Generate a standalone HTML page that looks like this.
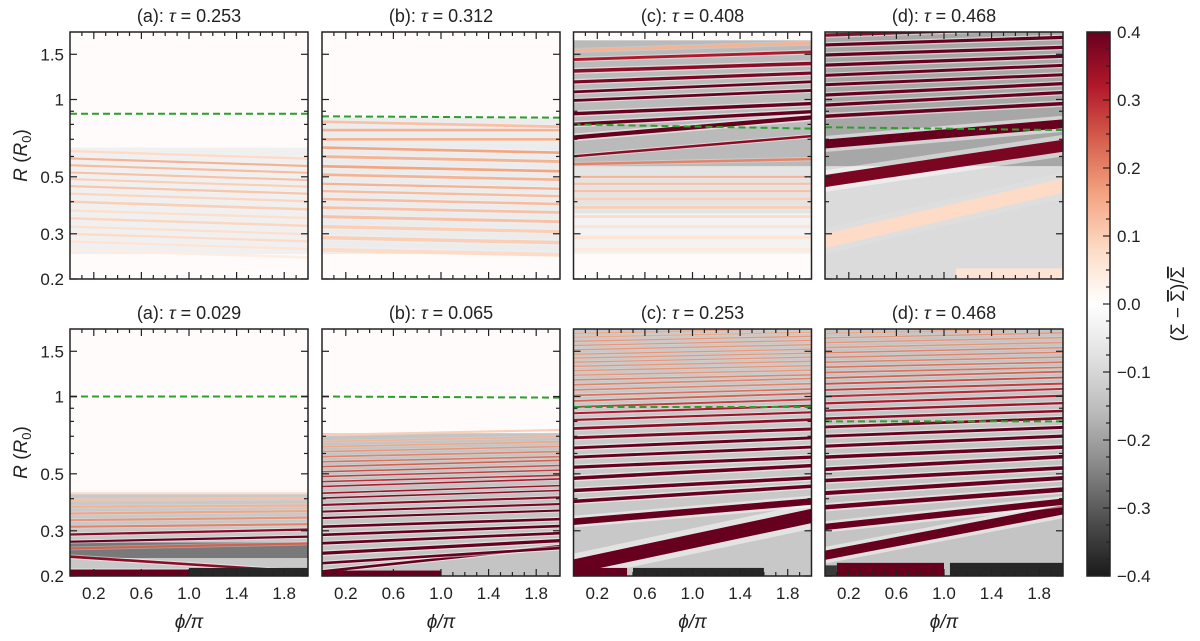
<!DOCTYPE html>
<html><head><meta charset="utf-8"><style>
body{margin:0;background:#fff;}
svg text{font-family:"Liberation Sans","DejaVu Sans",sans-serif;fill:#222;}
</style></head><body>
<svg id="fig" width="1200" height="636" viewBox="0 0 1200 636" xmlns="http://www.w3.org/2000/svg">
<defs id="defs"></defs>
</svg>
<script>
// ---------- data ----------
const panelTitles=["(a): ","(b): ","(c): ","(d): ","(a): ","(b): ","(c): ","(d): "];
const panelTaus=["0.253","0.312","0.408","0.468","0.029","0.065","0.253","0.468"];
const xTickLabels=["0.2","0.6","1.0","1.4","1.8"];
const xTickValues=[0.2,0.6,1.0,1.4,1.8];
const yTickValues=[0.2,0.3,0.5,1,1.5];
const yTickLabels=["0.2","0.3","0.5","1","1.5"];
const yMinorValues=[0.4,0.6,0.7,0.8,0.9];
const cbTickValues=[-0.4,-0.3,-0.2,-0.1,0.0,0.1,0.2,0.3,0.4];
const cbTickLabels=["\u22120.4","\u22120.3","\u22120.2","\u22120.1","0.0","0.1","0.2","0.3","0.4"];

const greenStart=[0.88,0.86,0.80,0.78,1.0,1.0,0.91,0.80];
const greenEnd=[0.88,0.85,0.77,0.76,1.0,0.99,0.91,0.80];

const topA_R=[0.26,0.28,0.30,0.32,0.345,0.37,0.40,0.43,0.46,0.49,0.52,0.555,0.59,0.63];
const topA_amp=[0.1,0.15,0.2,0.18,0.22,0.18,0.25,0.22,0.28,0.25,0.3,0.32,0.35,0.2];
const topA_tilt=[-0.03,-0.03,-0.03,-0.03,-0.03,-0.03,-0.03,-0.03,-0.03,-0.03,-0.03,-0.03,-0.03,-0.03];
const topB_R=[0.26,0.29,0.32,0.35,0.38,0.41,0.44,0.47,0.51,0.55,0.60,0.65,0.70,0.76,0.82];
const topB_amp=[0.2,0.25,0.25,0.3,0.3,0.32,0.32,0.35,0.35,0.4,0.35,0.4,0.35,0.35,0.3];
const topB_tilt=[-0.02,-0.02,-0.02,-0.02,-0.02,-0.02,-0.02,-0.02,-0.02,-0.02,-0.02,-0.02,0.0,0.0,-0.02];
const topC_R=[0.26,0.29,0.32,0.35,0.38,0.41,0.44,0.47,0.50,0.56,0.60,0.71,0.80,0.88,0.99,1.07,1.17,1.29,1.43,1.55];
const topC_amp=[0.12,0.15,0.15,0.2,0.25,0.25,0.3,0.3,0.35,0.5,0.9,1,1,1,1,1,0.95,0.9,0.8,0.35];
const topC_tilt=[0,0,0,0,0,0,0,0,0,0.02,0.08,0.08,0.05,0.04,0.04,0.04,0.035,0.03,0.03,0.03];
const topD_R=[0.28,0.48,0.67,0.86,0.95,1.04,1.14,1.24,1.36,1.49,1.63,1.78];
const topD_amp=[0.2,0.95,1,1,1,1,1,1,1,1,1,0.9];
const topD_tilt=[0.22,0.14,0.08,0.05,0.05,0.045,0.04,0.04,0.035,0.03,0.03,0.03];
const botA_R=[0.205,0.238,0.256,0.272,0.29,0.311,0.33,0.35,0.372,0.396,0.42];
const botA_amp=[1,0.9,0.6,1,0.9,0.5,0.45,0.4,0.35,0.3,0.2];
const botA_tilt=[0,-0.06,0.02,0.02,0.02,0.01,0.01,0.01,0.005,0.005,0];
const botB_R=[0.208,0.224,0.245,0.268,0.289,0.311,0.336,0.356,0.378,0.402,0.420,0.446,0.466,0.488,0.509,0.533,0.557,0.583,0.610,0.637,0.667,0.708];
const botB_amp=[1,1,1,1,1,1,1,0.95,0.9,0.9,0.85,0.8,0.75,0.7,0.65,0.6,0.55,0.5,0.45,0.4,0.35,0.25];
const botB_tilt=[0.1,0.06,0.05,0.04,0.035,0.03,0.03,0.03,0.03,0.03,0.03,0.03,0.025,0.025,0.025,0.025,0.02,0.02,0.02,0.02,0.02,0.02];
const botC_R=[0.217,0.325,0.39,0.43,0.48,0.53,0.58,0.63,0.69,0.75,0.81,0.86,0.91,0.96,1.01,1.06,1.11,1.16,1.21,1.26,1.31,1.36,1.41,1.46,1.52,1.58,1.64,1.70,1.76];
const botC_amp=[1,1,1,1,1,1,1,1,0.95,0.9,0.85,0.8,0.7,0.6,0.55,0.5,0.5,0.5,0.45,0.45,0.45,0.45,0.45,0.45,0.45,0.45,0.45,0.4,0.4];
const botC_tilt=[0.2,0.08,0.06,0.05,0.05,0.04,0.04,0.04,0.035,0.035,0.03,0.03,0.03,0.03,0.025,0.025,0.025,0.02,0.02,0.02,0.02,0.02,0.02,0.02,0.02,0.02,0.02,0.02,0.02];
const botD_R=[0.24,0.31,0.37,0.42,0.47,0.52,0.58,0.64,0.70,0.76,0.82,0.88,0.94,1.0,1.06,1.12,1.18,1.24,1.30,1.36,1.42,1.48,1.55,1.62,1.69,1.76];
const botD_amp=[1,1,1,1,1,1,1,1,1,0.95,0.9,0.85,0.8,0.75,0.7,0.65,0.6,0.55,0.55,0.5,0.5,0.5,0.45,0.45,0.45,0.4];
const botD_tilt=[0.18,0.1,0.07,0.06,0.05,0.05,0.04,0.04,0.035,0.035,0.03,0.03,0.03,0.03,0.025,0.025,0.025,0.02,0.02,0.02,0.02,0.02,0.02,0.02,0.02,0.02];

// zones: [Rlo, Rhi, value]
const zonesTopA=[[0.25,0.65,-0.04]];
const zonesTopB=[[0.25,0.85,-0.05]];
const zonesTopC=[[0.25,0.36,-0.03],[0.36,0.55,-0.07],[0.55,1.7,-0.16]];
const zonesTopD=[[0.2,0.55,-0.09],[0.55,1.83,-0.19]];
const zonesBotA=[[0.2,0.42,-0.13],[0.235,0.27,-0.26]];
const zonesBotB=[[0.2,0.72,-0.14]];
const zonesBotC=[[0.2,1.83,-0.13]];
const zonesBotD=[[0.2,1.83,-0.14]];
// blobs: [phi0, phi1, R0, R1, value]
const blobsTopA=[],blobsTopB=[],blobsTopC=[];
const blobsTopD=[[1.1,2,0.2,0.22,0.06]];
const blobsBotA=[[0,1.0,0.2,0.212,0.4],[1.0,2,0.2,0.215,-0.38]];
const blobsBotB=[[0,1.0,0.2,0.21,0.4]];
const blobsBotC=[[0,0.45,0.2,0.215,0.4],[0.5,1.6,0.2,0.215,-0.38]];
const blobsBotD=[[0,0.1,0.2,0.22,-0.35],[0.1,1.0,0.2,0.225,0.4],[1.05,2,0.2,0.225,-0.38]];

const panelR=[topA_R,topB_R,topC_R,topD_R,botA_R,botB_R,botC_R,botD_R];
const panelAmp=[topA_amp,topB_amp,topC_amp,topD_amp,botA_amp,botB_amp,botC_amp,botD_amp];
const panelTilt=[topA_tilt,topB_tilt,topC_tilt,topD_tilt,botA_tilt,botB_tilt,botC_tilt,botD_tilt];
const panelZones=[zonesTopA,zonesTopB,zonesTopC,zonesTopD,zonesBotA,zonesBotB,zonesBotC,zonesBotD];
const panelBlobs=[blobsTopA,blobsTopB,blobsTopC,blobsTopD,blobsBotA,blobsBotB,blobsBotC,blobsBotD];

// ---------- layout ----------
const NS="http://www.w3.org/2000/svg";
const svg=document.getElementById('fig');
const defs=document.getElementById('defs');
const colX=[70,322,573.5,825], PW=238, rowY=[32,329], PH=247;
const RMIN=0.2, RMAX=0.2*Math.pow(10,247/256.8);
function mk(tag,attrs,parent){const e=document.createElementNS(NS,tag);for(const k in attrs)e.setAttribute(k,attrs[k]);(parent||svg).appendChild(e);return e;}
const stops=["#1a1a1a","#4d4d4d","#878787","#bababa","#e0e0e0","#ffffff","#fddbc7","#f4a582","#d6604d","#b2182b","#67001f"];
function hex(c){return [parseInt(c.substr(1,2),16),parseInt(c.substr(3,2),16),parseInt(c.substr(5,2),16)];}
function cmap(v){let t=(v+0.4)/0.8;t=Math.max(0,Math.min(1,t));const f=t*10;const i=Math.min(9,Math.floor(f));const r=f-i;const a=hex(stops[i]),b=hex(stops[i+1]);return `rgb(${a.map((x,k)=>Math.round(x+(b[k]-x)*r)).join(',')})`;}

for(let p=0;p<8;p++){
  const x0=colX[p%4], y0=rowY[Math.floor(p/4)];
  const xs=phi=>x0+phi/2*PW;
  const ys=R=>y0+PH-PH*Math.log10(R/RMIN)/Math.log10(RMAX/RMIN);
  const g=mk('g',{});
  
  
  const cp=mk('clipPath',{id:'cp'+p},defs);
  mk('rect',{x:x0,y:y0,width:PW,height:PH},cp);
  const hm=mk('g',{'clip-path':'url(#cp'+p+')'},g);
  
  
  mk('rect',{x:x0,y:y0,width:PW,height:PH,fill:'#fffbfa'},hm);
  panelZones[p].forEach(z=>{
    const r=mk('rect',{x:x0,y:ys(z[1]),width:PW,height:ys(z[0])-ys(z[1]),fill:cmap(z[2])},hm);
    
    
  });
  const Rs=panelR[p], A=panelAmp[p], T=panelTilt[p];
  Rs.forEach((R,i)=>{
    const yL=ys(R), yR=ys(R*Math.pow(10,T[i]));
    let gap=1e9;
    if(i>0)gap=Math.min(gap,Math.abs(ys(Rs[i-1])-yL));
    if(i<Rs.length-1)gap=Math.min(gap,Math.abs(ys(Rs[i+1])-yL));
    const w=Math.max(1.3,Math.min(14,gap*0.32));
    const h=mk('line',{x1:x0-2,y1:yL,x2:x0+PW+2,y2:yR,stroke:'#fff',"stroke-width":w*1.8,opacity:0.5*A[i]},hm);
    
    
    const l=mk('line',{x1:x0-2,y1:yL,x2:x0+PW+2,y2:yR,stroke:cmap(0.4*A[i]),"stroke-width":w},hm);
    
    
  });
  panelBlobs[p].forEach(b=>{
    const r=mk('rect',{x:xs(b[0]),y:ys(b[3]),width:xs(b[1])-xs(b[0]),height:ys(b[2])-ys(b[3]),fill:cmap(b[4])},hm);
    
    
  });
  const gl=mk('line',{x1:x0,y1:ys(greenStart[p]),x2:x0+PW,y2:ys(greenEnd[p]),stroke:'#2ca02c','stroke-width':2,'stroke-dasharray':'7,4'},g);
  
  
  // ticks
  for(let k=1;k<20;k++){
    const v=k/10, X=xs(v), L=(Math.abs(v*10%4-2)<0.01)?7:4;
    mk('line',{x1:X,y1:y0+PH,x2:X,y2:y0+PH-L,stroke:'#222','stroke-width':1.2},g);
    mk('line',{x1:X,y1:y0,x2:X,y2:y0+L,stroke:'#222','stroke-width':1.2},g);
  }
  yTickValues.forEach((v,i)=>{
    const Y=ys(v);
    mk('line',{x1:x0,y1:Y,x2:x0+7,y2:Y,stroke:'#222','stroke-width':1.2},g);
    mk('line',{x1:x0+PW,y1:Y,x2:x0+PW-7,y2:Y,stroke:'#222','stroke-width':1.2},g);
    if(p%4===0){const t=mk('text',{x:x0-6,y:Y+6,'font-size':17,'text-anchor':'end'},g);t.textContent=yTickLabels[i];
      }
  });
  yMinorValues.forEach(v=>{const Y=ys(v);
    mk('line',{x1:x0,y1:Y,x2:x0+4,y2:Y,stroke:'#222','stroke-width':1.2},g);
    mk('line',{x1:x0+PW,y1:Y,x2:x0+PW-4,y2:Y,stroke:'#222','stroke-width':1.2},g);});
  if(p>=4){
    xTickValues.forEach((v,i)=>{const t=mk('text',{x:xs(v),y:y0+PH+23,'font-size':17,'text-anchor':'middle'},g);t.textContent=xTickLabels[i];
      });
    const xl=mk('text',{x:x0+PW/2,y:y0+PH+52,'font-size':19,'text-anchor':'middle','font-style':'italic'},g);
    xl.textContent='\u03d5/\u03c0';
    
  }
  mk('rect',{x:x0,y:y0,width:PW,height:PH,fill:'none',stroke:'#222','stroke-width':1.5},g);
  const tt=mk('text',{x:x0+PW/2,y:y0-10,'font-size':18,'text-anchor':'middle'},g);
  tt.innerHTML=panelTitles[p]+'<tspan font-style="italic">\u03c4</tspan> = '+panelTaus[p];
  
}
// y axis titles
[0,1].forEach(r=>{const cy=rowY[r]+PH/2;
  const t=mk('text',{x:0,y:0,'font-size':19,'text-anchor':'middle',transform:`translate(27,${cy}) rotate(-90)`});
  t.innerHTML='<tspan font-style="italic">R</tspan> (<tspan font-style="italic">R</tspan><tspan font-size="13" dy="4">0</tspan><tspan dy="-4">)</tspan>';
  });
// colorbar
const cbX=1087,cbW=23,cbY=32,cbH=544;
const lg=mk('linearGradient',{id:'cbg',x1:0,y1:1,x2:0,y2:0},defs);
stops.forEach((c,i)=>mk('stop',{offset:i/10,'stop-color':c},lg));
const cb=mk('rect',{x:cbX,y:cbY,width:cbW,height:cbH,fill:'url(#cbg)',stroke:'#222','stroke-width':1.5});

const cy=v=>cbY+cbH-(v+0.4)/0.8*cbH;
for(let k=-16;k<=16;k++){const v=k*0.025,Y=cy(v),L=(k%4===0)?7:4;
  mk('line',{x1:cbX+cbW,y1:Y,x2:cbX+cbW-L,y2:Y,stroke:'#222','stroke-width':1.2});}
cbTickValues.forEach((v,i)=>{const t=mk('text',{x:cbX+cbW+7,y:cy(v)+6,'font-size':17});t.textContent=cbTickLabels[i];
  });
const cl=mk('text',{x:0,y:0,'font-size':19,'text-anchor':'middle',transform:`translate(1184,${cbY+cbH/2}) rotate(-90)`});
cl.innerHTML='(\u03a3 \u2212 <tspan text-decoration="overline">\u03a3</tspan>)/<tspan text-decoration="overline">\u03a3</tspan>';

</script>
</body></html>
